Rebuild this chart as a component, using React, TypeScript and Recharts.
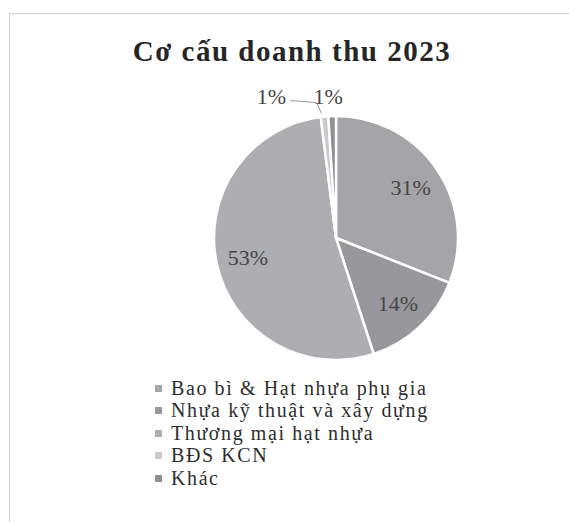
import { Legend, Pie, PieChart, Cell } from 'recharts';

// Revenue structure 2023 (percent)
const segments = [
  'Bao bì & Hạt nhựa phụ gia',
  'Nhựa kỹ thuật và xây dựng',
  'Thương mại hạt nhựa',
  'BĐS KCN',
  'Khác',
];
const shares = [31, 14, 53, 1, 1];
const sliceColors = ['#a4a4a9', '#97979c', '#adadb2', '#c9c9cd', '#8e8e93'];

const RAD = Math.PI / 180;
const SERIF = '"Liberation Serif", "Times New Roman", serif';

const data = segments.map((name, i) => ({ name, value: shares[i] }));

function renderLabel(props: any) {
  const { cx, cy, midAngle, outerRadius, value, index } = props;
  const cos = Math.cos(-midAngle * RAD);
  const sin = Math.sin(-midAngle * RAD);
  const text = `${value}%`;
  const style = { fontFamily: SERIF, fontSize: 22, fill: '#464646' };

  if (value >= 5) {
    const r = outerRadius * 0.74;
    return (
      <text x={cx + r * cos} y={cy + r * sin} textAnchor="middle" dominantBaseline="central" {...style}>
        {text}
      </text>
    );
  }

  const ex = cx + outerRadius * cos;
  const ey = cy + outerRadius * sin;
  if (index === segments.length - 1) {
    // top small slice: label straight above
    return (
      <text x={ex - 4} y={ey - 20} textAnchor="middle" dominantBaseline="central" {...style}>
        {text}
      </text>
    );
  }
  // other small slice: label to the left with leader line
  return (
    <g>
      <path
        d={`M${ex - 34},${ey - 16} L${ex - 8},${ey - 14} L${ex - 3},${ey - 3}`}
        stroke="#9a9aa0"
        strokeWidth={1}
        fill="none"
      />
      <text x={ex - 53} y={ey - 20} textAnchor="middle" dominantBaseline="central" {...style}>
        {text}
      </text>
    </g>
  );
}

function LegendList() {
  return (
    <ul style={{ listStyle: 'none', margin: 0, padding: 0 }}>
      {segments.map((name, i) => (
        <li
          key={`legend-${i}`}
          style={{
            display: 'flex',
            alignItems: 'center',
            height: 22.5,
            fontFamily: SERIF,
            fontSize: 20,
            letterSpacing: 1.6,
            color: '#2e2e2e',
            whiteSpace: 'nowrap',
          }}
        >
          <span style={{ width: 7, height: 7, background: sliceColors[i], marginRight: 9, display: 'inline-block' }} />
          <span>{name}</span>
        </li>
      ))}
    </ul>
  );
}

export default function App() {
  return (
    <div style={{ position: 'absolute', left: 0, top: 0, width: 569, height: 522, background: '#fff', overflow: 'hidden' }}>
      <div
        style={{
          position: 'absolute',
          left: 9,
          top: 13,
          width: 580,
          height: 540,
          borderTop: '1px solid #cfcfd6',
          borderLeft: '1px solid #cfcfd6',
        }}
      />
      <div
        style={{
          position: 'absolute',
          left: 0,
          width: 584,
          top: 35,
          textAlign: 'center',
          fontFamily: SERIF,
          fontWeight: 'bold',
          fontSize: 29,
          letterSpacing: 1.5,
          color: '#262626',
        }}
      >
        Cơ cấu doanh thu 2023
      </div>
      <PieChart width={569} height={522} style={{ position: 'absolute', left: 0, top: 0 }}>
        <Pie
          data={data}
          dataKey="value"
          nameKey="name"
          cx={331}
          cy={233}
          outerRadius={122}
          startAngle={90}
          endAngle={-270}
          stroke="#ffffff"
          strokeWidth={2.5}
          label={renderLabel}
          labelLine={false}
          isAnimationActive={false}
        >
          {data.map((entry, i) => (
            <Cell key={`cell-${i}`} fill={sliceColors[i]} />
          ))}
        </Pie>
        <Legend
          layout="vertical"
          content={<LegendList />}
          wrapperStyle={{ position: 'absolute', left: 155, top: 377, width: 340 }}
        />
      </PieChart>
    </div>
  );
}
